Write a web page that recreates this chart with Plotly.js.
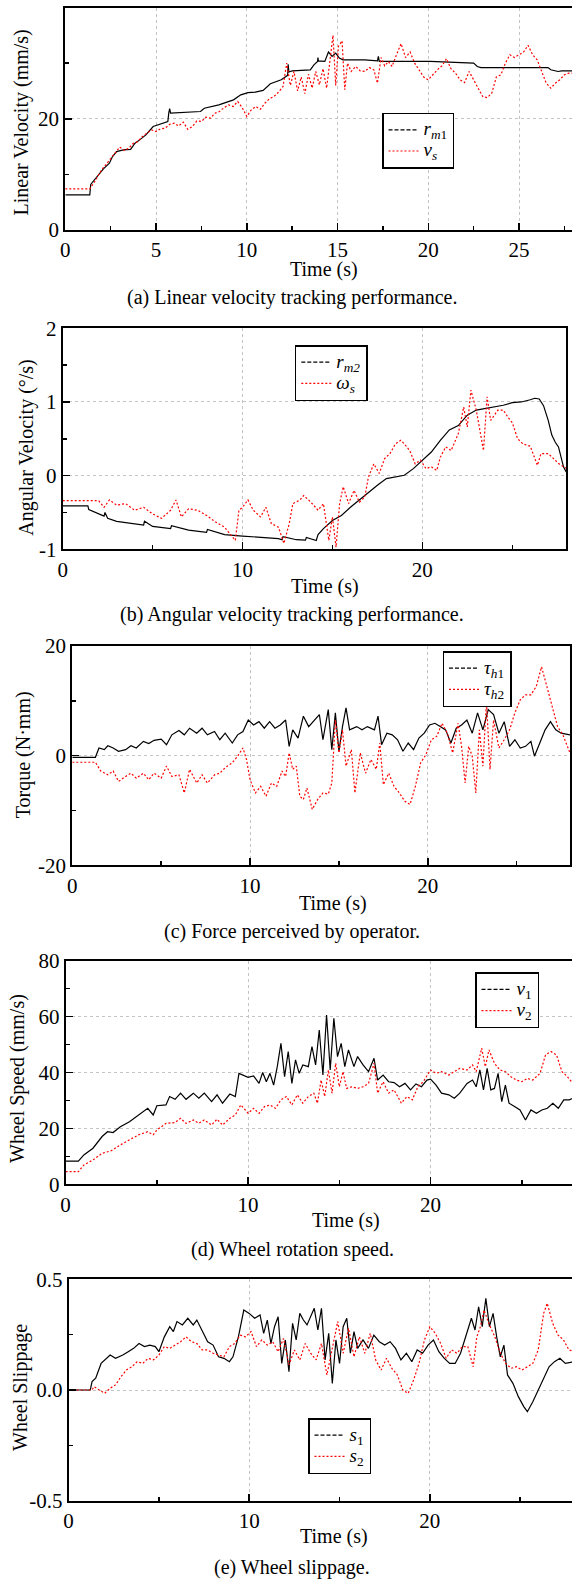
<!DOCTYPE html>
<html>
<head>
<meta charset="utf-8">
<script src="https://cdn.plot.ly/plotly-3.0.1.min.js"></script>
<style>html,body{margin:0;padding:0;background:#fff;}#chart{width:572px;height:1580px;}</style>
</head>
<body>
<div id="chart"></div>
<script>
// ---------------- DATA ----------------
// (a) Linear velocity
const tA1 = [0,1.35,1.4,1.8,2.1,2.43,2.6,2.83,3.2,3.6,3.84,4.1,4.44,4.84,5.25,5.65,5.7,5.75,5.8,6.5,7.45,7.66,8.46,9.27,9.67,10.07,10.47,10.9,11.3,11.9,12.25,12.28,12.32,12.5,13.5,13.7,13.9,13.92,13.95,14.3,14.5,14.7,14.9,15.1,15.3,16.5,17.2,17.25,17.3,20.1,22.5,22.7,22.9,26.6,26.75,27.15,27.35,28];
const rm1 = [6.3,6.3,8.2,9.8,11.0,12.0,13.2,14.1,14.4,14.5,15.6,16.2,17.1,18.6,19.1,19.5,21.0,21.8,21.0,21.1,21.3,21.9,22.5,23.4,24.3,24.7,24.8,25.1,26.3,27.0,27.8,29.8,28.4,28.6,28.8,29.7,30.3,31.0,30.4,30.3,32.0,31.2,31.8,30.9,30.6,30.6,30.4,31.2,30.3,30.3,30.0,29.4,29.2,29.2,28.8,28.5,28.6,28.6];
const tA2 = [0,1.35,1.6,1.8,2.0,2.25,2.5,2.75,3.0,3.25,3.5,3.75,4.0,4.25,4.5,4.75,5.0,5.25,5.5,5.75,6.0,6.25,6.5,6.75,7.0,7.25,7.5,7.75,8.0,8.25,8.5,8.75,9.0,9.25,9.5,9.75,10.0,10.25,10.5,10.75,11.0,11.25,11.5,11.75,12.0,12.2,12.4,12.6,12.8,13.0,13.2,13.4,13.6,13.8,14.0,14.2,14.4,14.6,14.75,14.9,15.05,15.25,15.4,15.55,15.75,16.0,16.25,16.5,16.75,17.0,17.2,17.4,17.6,17.8,18.0,18.25,18.5,18.75,19.0,19.25,19.5,19.75,20.0,20.25,20.5,20.75,21.0,21.25,21.5,21.75,22.0,22.25,22.5,22.75,23.0,23.25,23.5,23.75,24.0,24.25,24.5,24.75,25.0,25.25,25.5,25.75,26.0,26.25,26.5,26.75,27.0,27.25,27.5,27.75,28.0];
const vs = [7.4,7.4,8.6,9.6,10.8,11.8,12.9,13.8,14.9,14.3,14.7,15.6,15.9,16.8,17.4,18.0,17.7,18.2,18.3,19.0,19.2,18.7,19.4,18.1,18.6,19.6,19.5,20.3,20.1,21.0,21.3,22.0,22.5,22.2,23.1,22.0,20.4,21.6,22.2,21.7,22.8,23.6,24.0,24.8,25.8,30.0,26.0,28.5,25.0,27.5,24.5,28.0,25.5,28.5,26.1,29.0,25.5,31.0,35.0,26.0,33.0,34.0,25.2,30.0,28.5,29.4,28.6,28.5,29.2,28.8,26.4,31.0,29.5,30.3,29.4,31.5,33.5,31.0,32.0,30.0,28.8,27.5,27.0,28.0,28.8,29.5,30.8,29.0,28.2,27.0,26.5,28.5,27.0,25.5,24.0,23.8,24.6,27.5,27.9,30.0,31.5,31.0,31.5,32.0,33.2,31.5,30.6,28.5,26.4,25.5,26.4,27.0,27.9,28.2,28.2];

// (b) Angular velocity
const tB1 = [0,1.4,1.45,2.0,2.3,2.35,2.5,3.0,4.0,4.5,4.55,5.0,6.0,6.05,7.0,8.0,8.05,9.0,10.0,11.0,12.0,12.2,12.25,13.0,13.5,13.55,14.1,14.2,14.5,15.0,15.5,16.0,16.5,17.0,17.5,18.0,18.5,19.0,19.5,20.0,20.5,21.0,21.5,22.0,22.5,23.0,23.5,24.0,24.5,25.0,25.5,26.0,26.25,26.5,26.74,27.0,27.2,27.4,27.57,27.85,28.0];
const rm2 = [-0.41,-0.41,-0.46,-0.52,-0.55,-0.50,-0.58,-0.62,-0.65,-0.67,-0.62,-0.69,-0.72,-0.68,-0.74,-0.77,-0.73,-0.80,-0.82,-0.84,-0.855,-0.87,-0.83,-0.87,-0.875,-0.84,-0.88,-0.80,-0.72,-0.61,-0.54,-0.43,-0.33,-0.22,-0.13,-0.04,-0.02,0.005,0.095,0.21,0.32,0.48,0.62,0.68,0.82,0.89,0.91,0.93,0.955,0.99,1.0,1.03,1.05,1.04,0.95,0.75,0.55,0.45,0.39,0.12,0.05];
const tB2 = [0,2.0,2.3,2.6,3.0,3.5,4.0,4.5,5.0,5.5,6.0,6.3,6.6,7.0,7.5,8.0,8.5,9.0,9.3,9.6,9.8,10.0,10.3,10.6,11.0,11.3,11.6,12.0,12.3,12.6,12.8,13.2,13.4,13.8,14.2,14.5,14.8,15.0,15.2,15.4,15.6,15.9,16.2,16.5,16.8,17.0,17.3,17.6,17.9,18.2,18.5,18.8,19.0,19.3,19.6,19.9,20.2,20.5,20.8,21.0,21.3,21.6,22.0,22.3,22.5,22.7,23.0,23.2,23.4,23.6,23.8,24.2,24.5,24.8,25.0,25.3,25.6,26.0,26.4,26.6,27.0,27.3,27.6,28.0];
const ws = [-0.34,-0.34,-0.43,-0.33,-0.40,-0.38,-0.47,-0.43,-0.52,-0.58,-0.47,-0.33,-0.56,-0.45,-0.47,-0.54,-0.63,-0.70,-0.79,-0.88,-0.47,-0.43,-0.33,-0.47,-0.56,-0.43,-0.65,-0.70,-0.92,-0.65,-0.38,-0.33,-0.27,-0.36,-0.47,-0.38,-0.88,-0.56,-0.97,-0.38,-0.15,-0.38,-0.20,-0.36,-0.29,-0.02,0.16,0.03,0.23,0.30,0.43,0.48,0.43,0.34,0.16,0.21,0.095,0.12,0.07,0.25,0.39,0.34,0.57,0.93,0.66,1.16,0.89,0.62,0.34,1.07,0.75,0.89,0.89,0.78,0.72,0.50,0.43,0.40,0.14,0.30,0.30,0.23,0.16,0.10];

// (c) Torque
const tC1 = [0,1.3,1.5,1.8,2.0,2.3,2.6,3.0,3.3,3.6,4.0,4.3,4.6,5.0,5.3,5.6,6.0,6.3,6.6,7.0,7.3,7.6,8.0,8.3,8.6,9.0,9.3,9.6,9.9,10.2,10.5,10.8,11.1,11.4,11.7,12.0,12.2,12.4,12.7,13.0,13.3,13.6,13.9,14.1,14.4,14.6,14.8,15.0,15.2,15.4,15.6,16.0,16.3,16.6,17.0,17.2,17.4,17.7,18.0,18.3,18.6,18.9,19.2,19.5,19.8,20.1,20.4,20.7,21.0,21.3,21.6,21.9,22.2,22.5,22.8,23.1,23.4,23.7,24.0,24.3,24.6,24.9,25.2,25.5,25.8,26.0,26.3,26.6,26.9,27.2,27.5,28.0];
const th1 = [-0.3,-0.3,1.4,1.1,1.8,1.4,0.8,1.1,1.8,1.4,2.6,2.2,2.8,3.0,2.0,3.8,4.6,3.8,5.0,4.1,5.0,3.8,4.4,2.9,4.1,2.3,3.8,4.4,6.5,5.6,6.2,5.0,6.2,5.0,5.6,6.5,1.7,4.7,3.2,7.2,5.3,6.5,7.5,2.9,8.4,1.1,7.8,0.8,5.3,8.7,4.7,5.3,4.7,5.3,4.7,7.2,2.0,4.1,3.8,2.9,0.8,2.3,1.1,3.2,4.1,5.6,5.9,5.3,4.7,2.3,5.0,5.6,6.5,4.1,7.8,4.7,8.4,7.5,4.1,6.2,1.7,2.9,1.4,1.7,2.6,-0.1,2.3,4.7,6.2,4.7,4.1,3.8];
const tC2 = [0,1.3,1.6,2.0,2.3,2.6,3.0,3.3,3.6,4.0,4.3,4.6,5.0,5.3,5.6,6.0,6.3,6.6,7.0,7.3,7.6,8.0,8.3,8.6,9.0,9.3,9.6,9.8,10.0,10.3,10.6,10.9,11.2,11.5,11.8,12.0,12.2,12.4,12.6,12.8,13.0,13.2,13.5,13.8,14.1,14.4,14.6,14.8,15.0,15.2,15.4,15.7,15.9,16.2,16.5,16.8,17.1,17.3,17.5,17.8,18.1,18.4,18.7,19.0,19.3,19.6,19.9,20.2,20.5,20.8,21.1,21.4,21.7,21.9,22.1,22.3,22.5,22.7,22.9,23.1,23.3,23.5,23.7,24.0,24.3,24.6,24.9,25.2,25.5,25.8,26.1,26.4,26.7,27.0,27.3,27.6,28.0];
const th2 = [-1.2,-1.2,-2.8,-3.5,-2.8,-4.7,-3.8,-3.2,-4.1,-3.2,-4.4,-3.2,-4.1,-1.9,-3.8,-3.5,-6.8,-2.5,-5.0,-3.5,-5.0,-3.5,-3.2,-2.2,-1.3,-0.1,1.4,-0.7,-4.4,-6.8,-5.6,-7.4,-5.0,-5.6,-2.8,-3.8,0.5,-2.5,-1.9,-7.4,-8.0,-5.9,-9.8,-8.0,-6.8,-7.0,-5.0,6.5,0.5,4.7,-1.9,1.1,-6.8,0.5,-3.2,-0.7,-2.5,2.3,-5.3,-3.2,-5.6,-6.8,-8.3,-8.9,-5.6,-1.3,0.2,2.9,3.5,5.9,4.1,0.5,5.9,1.7,-5.0,1.7,-0.1,-6.8,4.7,-1.9,9.9,-2.5,6.5,1.4,2.9,4.7,7.8,10.2,11.1,11.1,12.6,16.2,12.6,9.0,5.3,3.8,0.5];

// (d) Wheel speed
const tD1 = [0,0.7,1.0,1.5,2.0,2.3,2.6,3.0,3.5,4.0,4.5,4.8,5.0,5.5,5.7,6.0,6.3,6.6,7.0,7.3,7.6,8.0,8.3,8.6,9.0,9.3,9.5,10.0,10.3,10.6,10.8,11.0,11.2,11.4,11.6,11.8,12.0,12.2,12.4,12.6,12.8,13.0,13.3,13.5,13.7,13.9,14.1,14.3,14.5,14.7,14.9,15.1,15.3,15.5,15.8,16.0,16.3,16.6,16.9,17.1,17.4,17.7,18.0,18.3,18.6,18.9,19.2,19.5,19.8,20.0,20.3,20.6,21.0,21.3,21.6,22.0,22.3,22.5,22.7,22.9,23.1,23.3,23.5,23.7,23.9,24.1,24.3,24.6,24.9,25.2,25.5,25.8,26.1,26.4,26.7,27.0,27.3,27.6,28.0];
const v1 = [8.3,8.3,10.5,12.9,17.1,18.8,18.5,20.6,22.4,24.8,27.2,24.8,28.1,28.4,31.4,30.4,32.6,30.4,32.6,30.8,32.6,29.6,32.0,29.0,32.3,31.4,39.7,38.3,38.8,36.1,40.0,36.7,39.7,35.5,42.1,50.4,38.5,47.5,36.1,44.5,39.7,42.7,42.1,49.3,42.7,55.2,39.1,60.6,40.9,59.4,45.7,50.4,42.1,48.1,42.1,45.7,42.7,40.3,45.1,37.3,39.1,36.7,36.4,34.9,36.1,33.8,35.9,34.9,37.3,37.6,35.5,32.6,32.0,30.8,32.6,36.1,37.3,34.9,40.9,33.8,41.5,33.8,34.3,39.7,29.6,35.5,29.0,27.8,26.6,23.0,26.6,25.4,26.6,27.2,29.0,27.2,30.2,30.2,31.4];
const tD2 = [0,0.7,1.0,1.5,2.0,2.5,3.0,3.5,4.0,4.5,4.8,5.0,5.5,6.0,6.3,6.6,7.0,7.3,7.6,8.0,8.3,8.6,9.0,9.3,9.6,10.0,10.3,10.6,10.9,11.2,11.5,11.8,12.1,12.4,12.7,13.0,13.3,13.6,13.8,14.0,14.2,14.4,14.6,14.8,15.0,15.2,15.4,15.7,16.0,16.3,16.6,16.9,17.1,17.4,17.7,18.0,18.4,18.7,19.0,19.3,19.6,20.0,20.3,20.6,21.0,21.3,21.6,22.0,22.3,22.5,22.8,23.0,23.2,23.5,23.8,24.1,24.4,24.7,25.0,25.3,25.6,26.0,26.3,26.6,26.9,27.2,27.5,28.0];
const v2 = [4.5,4.5,6.9,8.7,11.1,12.0,14.1,15.9,17.7,18.8,17.7,19.4,21.8,22.1,23.6,21.8,23.0,21.8,23.0,21.2,23.3,21.2,23.6,24.8,28.4,25.4,27.2,25.4,27.8,28.4,27.2,30.2,31.4,28.4,32.0,29.0,31.4,32.6,29.0,37.3,31.4,40.9,32.6,43.3,34.9,40.3,34.3,34.9,34.3,34.9,36.1,43.3,32.6,36.7,32.6,33.8,29.0,31.4,30.2,34.9,36.7,40.9,39.7,40.3,39.1,40.3,41.5,40.9,42.7,40.3,48.7,42.1,48.1,43.3,40.9,40.3,38.5,37.3,36.7,37.9,37.3,39.7,46.3,47.5,46.3,40.3,38.5,34.5];

// (e) Wheel slippage
const tE1 = [0,1.2,1.3,1.5,1.8,2.0,2.3,2.6,3.0,3.3,3.6,3.9,4.2,4.5,4.8,5.0,5.3,5.6,5.8,6.0,6.3,6.6,6.9,7.1,7.4,7.7,8.0,8.3,8.6,8.9,9.1,9.4,9.7,10.0,10.3,10.6,10.8,11.0,11.2,11.4,11.6,11.8,12.0,12.2,12.4,12.6,12.8,13.0,13.2,13.4,13.6,13.8,14.0,14.2,14.4,14.6,14.8,15.0,15.2,15.4,15.6,15.8,16.0,16.3,16.6,16.9,17.2,17.5,17.8,18.1,18.4,18.7,19.0,19.3,19.6,19.9,20.2,20.5,20.8,21.1,21.4,21.7,22.0,22.3,22.5,22.7,22.9,23.1,23.3,23.5,23.7,23.9,24.1,24.3,24.6,24.9,25.2,25.4,25.7,26.0,26.3,26.6,26.9,27.2,27.5,28.0];
const s1 = [0,0,0.038,0.053,0.12,0.136,0.158,0.143,0.158,0.173,0.188,0.21,0.196,0.203,0.196,0.173,0.24,0.286,0.264,0.309,0.294,0.324,0.294,0.316,0.264,0.218,0.203,0.15,0.143,0.128,0.15,0.24,0.361,0.346,0.324,0.339,0.256,0.316,0.21,0.286,0.331,0.12,0.226,0.083,0.301,0.226,0.346,0.316,0.294,0.331,0.369,0.271,0.369,0.136,0.256,0.03,0.226,0.12,0.286,0.324,0.166,0.264,0.188,0.226,0.188,0.248,0.218,0.203,0.218,0.188,0.136,0.166,0.128,0.181,0.166,0.203,0.226,0.173,0.143,0.12,0.12,0.166,0.24,0.324,0.271,0.376,0.286,0.414,0.286,0.346,0.24,0.15,0.203,0.068,0.03,-0.03,-0.075,-0.098,-0.053,0,0.045,0.105,0.128,0.143,0.12,0.128];
const tE2 = [0,1.3,1.4,1.7,2.0,2.3,2.6,2.9,3.2,3.5,3.8,4.1,4.4,4.7,5.0,5.3,5.6,5.9,6.2,6.5,6.8,7.1,7.4,7.7,8.0,8.3,8.6,8.9,9.2,9.5,9.8,10.1,10.4,10.7,11.0,11.3,11.6,11.9,12.2,12.5,12.8,13.1,13.4,13.7,14.0,14.3,14.6,14.9,15.2,15.5,15.8,16.1,16.4,16.7,17.0,17.3,17.6,17.9,18.2,18.5,18.8,19.1,19.4,19.7,20.0,20.3,20.6,20.9,21.2,21.5,21.8,22.1,22.4,22.6,22.8,23.0,23.3,23.6,23.9,24.2,24.5,24.8,25.1,25.4,25.7,26.0,26.3,26.5,26.8,27.1,27.4,27.7,28.0];
const s2 = [0,0,0.015,0,-0.015,0.008,0.023,0.06,0.09,0.105,0.128,0.12,0.143,0.136,0.158,0.196,0.188,0.203,0.218,0.24,0.218,0.21,0.181,0.181,0.166,0.158,0.15,0.196,0.21,0.248,0.24,0.264,0.196,0.226,0.203,0.218,0.173,0.233,0.113,0.181,0.136,0.21,0.166,0.136,0.21,0.068,0.196,0.309,0.166,0.279,0.15,0.24,0.166,0.256,0.136,0.09,0.143,0.098,0.068,0,-0.015,0.045,0.12,0.226,0.286,0.256,0.21,0.143,0.181,0.166,0.196,0.196,0.105,0.24,0.286,0.361,0.294,0.24,0.166,0.12,0.098,0.105,0.09,0.105,0.12,0.181,0.346,0.392,0.301,0.248,0.226,0.181,0.173];

// tick labels
const xTicksA = [0,5,10,15,20,25], xMinorA = [2.5,7.5,12.5,17.5,22.5,27.5];
const xTicks = [0,10,20], xMinor = [5,15,25];
const yTicksA = [0,20,40], yMinorA = [10,30];
const yTicksB = [-1,0,1,2], yTextB = ['-1','0','1','2'], yMinorB = [-0.5,0.5,1.5];
const yTicksC = [-20,0,20], yTextC = ['-20','0','20'], yMinorC = [-10,10];
const yTicksD = [0,20,40,60,80], yMinorD = [10,30,50,70];
const yTicksE = [-0.5,0,0.5], yTextE = ['-0.5','0.0','0.5'], yMinorE = [-0.25,0.25];

const names = {
  a: ['<i>r</i><sub><i>m</i>1</sub>', '<i>v</i><sub><i>s</i></sub>'],
  b: ['<i>r</i><sub><i>m2</i></sub>', '<i>ω</i><sub><i>s</i></sub>'],
  c: ['<i>τ</i><sub><i>h</i>1</sub>', '<i>τ</i><sub><i>h</i>2</sub>'],
  d: ['<i>v</i><sub>1</sub>', '<i>v</i><sub>2</sub>'],
  e: ['<i>s</i><sub>1</sub>', '<i>s</i><sub>2</sub>']
};

// ---------------- LAYOUT ----------------
const W = 572, H = 1580;
const FONT = 'Liberation Serif';
function xd(l, r) { return [l / W, Math.min(r / W, 1)]; }
function yd(top, bot) { return [1 - bot / H, 1 - top / H]; }

const panels = [
  {k:'a', t1:tA1, y1:rm1, t2:tA2, y2:vs, xr:[0,27.92], xdom:xd(65.3,572), ydom:yd(7.5,230), yr:[0,40],
   xt:xTicksA, xm:xMinorA, yt:yTicksA, ytt:yTicksA.map(String), ym:yMinorA, ymirror:false,
   ytitle:'Linear Velocity (mm/s)', ytx:21, yty:122.5, xtx:324, xty:269,
   cap:'(a) Linear velocity tracking performance.', cy:297.7, lx:382, ly:112.7},
  {k:'b', t1:tB1, y1:rm2, t2:tB2, y2:ws, xr:[0,28], xdom:xd(62.7,566.2), ydom:yd(328.3,549.3), yr:[-1,2],
   xt:xTicks, xm:xMinor, yt:yTicksB, ytt:yTextB, ym:yMinorB, ymirror:true,
   ytitle:'Angular Velocity (°/s)', ytx:26.7, yty:448, xtx:325, xty:586,
   cap:'(b) Angular velocity tracking performance.', cy:614.5, lx:294.8, ly:345},
  {k:'c', t1:tC1, y1:th1, t2:tC2, y2:th2, xr:[0,28], xdom:xd(72.3,570), ydom:yd(646,865.3), yr:[-20,20],
   xt:xTicks, xm:xMinor, yt:yTicksC, ytt:yTextC, ym:yMinorC, ymirror:true,
   ytitle:'Torque (N·mm)', ytx:23.3, yty:755, xtx:333, xty:903.3,
   cap:'(c) Force perceived by operator.', cy:931, lx:442.5, ly:651},
  {k:'d', t1:tD1, y1:v1, t2:tD2, y2:v2, xr:[0,27.75], xdom:xd(65.6,572), ydom:yd(960.7,1184.3), yr:[0,80],
   xt:xTicks, xm:xMinor, yt:yTicksD, ytt:yTicksD.map(String), ym:yMinorD, ymirror:false,
   ytitle:'Wheel Speed (mm/s)', ytx:17, yty:1079, xtx:345.5, xty:1220,
   cap:'(d) Wheel rotation speed.', cy:1249, lx:475, ly:972.3},
  {k:'e', t1:tE1, y1:s1, t2:tE2, y2:s2, xr:[0,27.87], xdom:xd(68.6,572), ydom:yd(1279.3,1500.7), yr:[-0.5,0.5],
   xt:xTicks, xm:xMinor, yt:yTicksE, ytt:yTextE, ym:yMinorE, ymirror:false,
   ytitle:'Wheel Slippage', ytx:20, yty:1388, xtx:334, xty:1536.7,
   cap:'(e) Wheel slippage.', cy:1567, lx:308, ly:1418}
];

const data = [];
const layout = {
  width: W, height: H, margin: {l:0, r:0, t:0, b:0},
  paper_bgcolor: 'white', plot_bgcolor: 'white',
  font: {family: FONT, color: 'black', size: 20},
  showlegend: true, annotations: []
};

function axisBase() {
  return {
    showline: true, linecolor: 'black', linewidth: 2,
    ticks: 'inside', ticklen: 7, tickwidth: 1.5, tickcolor: 'black',
    showgrid: true, gridcolor: '#c4c4c4', griddash: 'dot', gridwidth: 1,
    zeroline: false, fixedrange: true,
    tickfont: {family: FONT, size: 21, color: 'black'},
    tickmode: 'array'
  };
}

const LSPAN = s => '<span style="font-size:19px">' + s + '</span>';

panels.forEach((p, i) => {
  const n = i + 1;
  const xa = 'x' + (n === 1 ? '' : n), ya = 'y' + (n === 1 ? '' : n);
  const xkey = 'xaxis' + (n === 1 ? '' : n), ykey = 'yaxis' + (n === 1 ? '' : n);
  const lkey = 'legend' + (n === 1 ? '' : n);

  const X = axisBase();
  Object.assign(X, {domain: p.xdom, range: p.xr, anchor: ya, mirror: true,
    tickvals: p.xt, ticktext: p.xt.map(String),
    minor: {tickmode: 'array', tickvals: p.xm, ticks: 'inside', ticklen: 4, tickwidth: 1.5, tickcolor: 'black', showgrid: false}});
  const Y = axisBase();
  Object.assign(Y, {domain: p.ydom, range: p.yr, anchor: xa, mirror: p.ymirror,
    tickvals: p.yt, ticktext: p.ytt,
    minor: {tickmode: 'array', tickvals: p.ym, ticks: 'inside', ticklen: 4, tickwidth: 1.5, tickcolor: 'black', showgrid: false}});
  layout[xkey] = X; layout[ykey] = Y;

  layout[lkey] = {
    x: p.lx / W, y: 1 - p.ly / H, xanchor: 'left', yanchor: 'top',
    bordercolor: 'black', borderwidth: 1.5, bgcolor: 'white',
    font: {family: FONT, size: 14, color: 'black'}, tracegroupgap: 0, itemwidth: 30
  };

  data.push({x: p.t1, y: p.y1, xaxis: xa, yaxis: ya, mode: 'lines', showlegend: false,
    line: {color: 'black', width: 1.2}, hoverinfo: 'skip'});
  data.push({x: [null], y: [null], xaxis: xa, yaxis: ya, mode: 'lines', name: LSPAN(names[p.k][0]), legend: lkey,
    line: {color: 'black', width: 1.2, dash: '4px,2px'}});
  data.push({x: p.t2, y: p.y2, xaxis: xa, yaxis: ya, mode: 'lines', name: LSPAN(names[p.k][1]), legend: lkey,
    line: {color: '#ff0000', width: 1.2, dash: '2px,2px'}, hoverinfo: 'skip'});

  layout.annotations.push({text: p.ytitle, x: p.ytx / W, y: 1 - p.yty / H, xref: 'paper', yref: 'paper',
    textangle: -90, showarrow: false, xanchor: 'center', yanchor: 'middle', font: {family: FONT, size: 20, color: 'black'}});
  layout.annotations.push({text: 'Time (s)', x: p.xtx / W, y: 1 - p.xty / H, xref: 'paper', yref: 'paper',
    showarrow: false, xanchor: 'center', yanchor: 'middle', font: {family: FONT, size: 20, color: 'black'}});
  layout.annotations.push({text: p.cap, x: 292 / W, y: 1 - p.cy / H, xref: 'paper', yref: 'paper',
    showarrow: false, xanchor: 'center', yanchor: 'middle', font: {family: FONT, size: 20, color: 'black'}});
});

Plotly.newPlot('chart', data, layout, {staticPlot: true, displayModeBar: false});
</script>
</body>
</html>
